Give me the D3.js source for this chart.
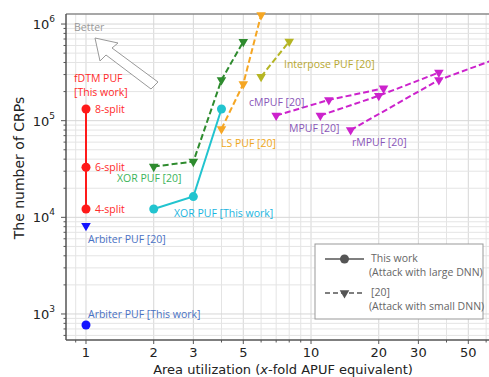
<!DOCTYPE html>
<html>
<head>
<meta charset="utf-8">
<script src="https://cdn.jsdelivr.net/npm/d3@7"></script>
<style>
  body { margin: 0; background: #fff; overflow: hidden; }
  svg { display: block; }
  .tick-lbl { font-family: "DejaVu Sans", sans-serif; font-size: 13px; fill: #222; }
  .note { font-family: "Open Sans", "Noto Sans", sans-serif; font-size: 10.5px; }
</style>
</head>
<body>
<div id="chart"></div>
<script>
// ---- data ----
const fdtmX = [1, 1, 1];
const fdtmY = [12200, 33000, 132000];
const fdtmLabels = ["4-split", "6-split", "8-split"];

const xorWorkX = [2, 3, 4];
const xorWorkY = [12200, 16400, 132000];

const xor20X = [2, 3, 4, 5];
const xor20Y = [33500, 37700, 264000, 657000];

const ls20X = [4, 5, 6];
const ls20Y = [82000, 240000, 1240000];

const interposeX = [6, 8];
const interposeY = [285000, 660000];

const cmpufX = [7, 12, 21];
const cmpufY = [113000, 164000, 216000];

const mpufX = [11, 20, 37];
const mpufY = [113000, 181000, 315000];

const rmpufX = [15, 37, 70];
const rmpufY = [80000, 264000, 455000];

const arb20X = [1];
const arb20Y = [8200];
const arbWorkX = [1];
const arbWorkY = [770];

const xTickVals = [1, 2, 3, 5, 10, 20, 30, 50];
const yTickVals = [1e3, 1e4, 1e5, 1e6];

// ---- layout ----
const width = 489, height = 377;
const pLeft = 66, pTop = 14, pBottom = 340, pRight = 495;

const svg = d3.select('#chart').append('svg')
    .attr('width', width).attr('height', height);

const x = d3.scaleLog().domain([0.815, 65.7]).range([pLeft, pRight]);
const y = d3.scaleLog().domain([538, 1.27e6]).range([pBottom, pTop]);

// minor + major grid
const xGrid = [];
for (let d = 0.1; d <= 100; d *= 10)
    for (let k = 1; k < 10; k++) { const v = +(d * k).toPrecision(6); if (v >= 0.815 && v <= 65.7) xGrid.push(v); }
const yGrid = [];
for (let d = 100; d <= 1e6; d *= 10)
    for (let k = 1; k < 10; k++) { const v = d * k; if (v >= 538 && v <= 1.27e6) yGrid.push(v); }

const grid = svg.append('g');
grid.selectAll('.gx').data(xGrid).enter().append('line')
    .attr('x1', d => x(d)).attr('x2', d => x(d)).attr('y1', pTop).attr('y2', pBottom)
    .attr('stroke', d => xTickVals.includes(d) ? '#d6d6d6' : '#e4e4e4').attr('stroke-width', 1);
grid.selectAll('.gy').data(yGrid).enter().append('line')
    .attr('x1', pLeft).attr('x2', pRight).attr('y1', d => y(d)).attr('y2', d => y(d))
    .attr('stroke', d => yTickVals.includes(d) ? '#d6d6d6' : '#e4e4e4').attr('stroke-width', 1);

// frame
svg.append('line').attr('x1', pLeft).attr('x2', pRight).attr('y1', pTop).attr('y2', pTop)
    .attr('stroke', '#8a8a8a').attr('stroke-width', 1.5);
svg.append('line').attr('x1', pLeft).attr('x2', pLeft).attr('y1', pTop).attr('y2', pBottom)
    .attr('stroke', '#555').attr('stroke-width', 1.5);
svg.append('line').attr('x1', pLeft).attr('x2', pRight).attr('y1', pBottom).attr('y2', pBottom)
    .attr('stroke', '#555').attr('stroke-width', 1.5);

// tick marks
svg.selectAll('.tx').data(xGrid).enter().append('line')
    .attr('x1', d => x(d)).attr('x2', d => x(d)).attr('y1', pBottom)
    .attr('y2', d => pBottom + (xTickVals.includes(d) ? 4 : 2.5))
    .attr('stroke', '#555').attr('stroke-width', 1);
svg.selectAll('.ty').data(yGrid).enter().append('line')
    .attr('y1', d => y(d)).attr('y2', d => y(d)).attr('x1', pLeft)
    .attr('x2', d => pLeft - (yTickVals.includes(d) ? 5 : 2.5))
    .attr('stroke', '#555').attr('stroke-width', 1);

// tick labels
svg.selectAll('.xl').data(xTickVals).enter().append('text')
    .attr('class', 'tick-lbl').attr('x', d => x(d)).attr('y', 357)
    .attr('text-anchor', 'middle').text(d => d);
const yl = svg.selectAll('.yl').data(yTickVals).enter().append('text')
    .attr('class', 'tick-lbl').attr('x', 55).attr('y', d => y(d) + 5)
    .attr('text-anchor', 'end');
yl.append('tspan').text('10');
yl.append('tspan').attr('dy', -7).attr('font-size', 9).text(d => Math.round(Math.log10(d)));

// axis titles
svg.append('text').attr('x', 283).attr('y', 374)
    .attr('text-anchor', 'middle').attr('font-family', 'DejaVu Sans, sans-serif')
    .attr('font-size', 13).attr('fill', '#222')
    .html('Area utilization (<tspan font-style="italic">x</tspan>-fold APUF equivalent)');
svg.append('text').attr('transform', 'translate(24,168) rotate(-90)')
    .attr('text-anchor', 'middle').attr('font-family', 'DejaVu Sans, sans-serif')
    .attr('font-size', 14).attr('fill', '#222').text('The number of CRPs');

// "Better" annotation
svg.append('text').attr('class', 'note').attr('x', 74).attr('y', 31)
    .attr('fill', '#999').attr('font-size', 9.5).text('Better');
svg.append('path')
    .attr('d', 'M95,38 L118,43 L112,48 L158,82 L151,89 L106,55 L100,61 Z')
    .attr('fill', '#fff').attr('stroke', '#999').attr('stroke-width', 1);

// plot marks
svg.append('clipPath').attr('id', 'clip').append('rect')
    .attr('x', pLeft).attr('y', pTop - 6).attr('width', pRight - pLeft).attr('height', pBottom - pTop + 6);
const marks = svg.append('g').attr('clip-path', 'url(#clip)');

const line = d3.line().x(d => x(d[0])).y(d => y(d[1]));
const tri = d3.symbol().type(d3.symbolTriangle).size(40);

function series(xs, ys, color, dashed, marker) {
    const pts = xs.map((v, i) => [v, ys[i]]);
    marks.append('path').datum(pts).attr('d', line)
        .attr('fill', 'none').attr('stroke', color).attr('stroke-width', 2)
        .attr('stroke-dasharray', dashed ? '6,3' : null);
    if (marker === 'circle') {
        marks.selectAll(null).data(pts).enter().append('circle')
            .attr('cx', d => x(d[0])).attr('cy', d => y(d[1])).attr('r', 4.5).attr('fill', color);
    } else {
        marks.selectAll(null).data(pts).enter().append('path')
            .attr('d', tri)
            .attr('transform', d => `translate(${x(d[0])},${y(d[1])}) rotate(180)`)
            .attr('fill', color);
    }
}

series(fdtmX, fdtmY, '#ff1a1a', false, 'circle');
series(xorWorkX, xorWorkY, '#22c4cf', false, 'circle');
series(xor20X, xor20Y, '#2e8b2e', true, 'tri');
series(ls20X, ls20Y, '#f5a623', true, 'tri');
series(interposeX, interposeY, '#b5b523', true, 'tri');
series(cmpufX, cmpufY, '#cc22cc', true, 'tri');
series(mpufX, mpufY, '#cc22cc', true, 'tri');
series(rmpufX, rmpufY, '#cc22cc', true, 'tri');
series(arb20X, arb20Y, '#1414ff', false, 'tri');
series(arbWorkX, arbWorkY, '#1414ff', false, 'circle');

// data labels
function note(tx, ty, color, text, size) {
    svg.append('text').attr('class', 'note').attr('x', tx).attr('y', ty)
        .attr('fill', color).attr('font-size', size || 10.5).text(text);
}
note(74, 82, '#ff2a2a', 'fDTM  PUF');
note(74, 96, '#ff2a2a', '[This work]');
fdtmLabels.forEach((t, i) => note(x(1) + 9, y(fdtmY[i]) + 4, '#ff2a2a', t));
note(117, 182, '#3cb35a', 'XOR PUF [20]');
note(174, 217, '#1ab5e0', 'XOR PUF [This work]');
note(221, 147, '#f0a820', 'LS PUF [20]');
note(284, 68, '#b8a830', 'Interpose PUF [20]');
note(249, 106, '#8a55b8', 'cMPUF [20]');
note(289, 132, '#8a55b8', 'MPUF [20]');
note(352, 146, '#8a55b8', 'rMPUF [20]');
note(88, 243, '#4a72c4', 'Arbiter PUF [20]');
note(88, 318, '#4a72c4', 'Arbiter PUF [This work]');

// legend
const lg = svg.append('g');
lg.append('rect').attr('x', 315).attr('y', 244).attr('width', 168).attr('height', 75)
    .attr('fill', '#fff').attr('stroke', '#999').attr('stroke-width', 1);
lg.append('line').attr('x1', 325).attr('x2', 364).attr('y1', 259).attr('y2', 259)
    .attr('stroke', '#555').attr('stroke-width', 1.5);
lg.append('circle').attr('cx', 344.5).attr('cy', 259).attr('r', 4.5).attr('fill', '#555');
lg.append('line').attr('x1', 325).attr('x2', 364).attr('y1', 293).attr('y2', 293)
    .attr('stroke', '#555').attr('stroke-width', 1.5).attr('stroke-dasharray', '5,3');
lg.append('path').attr('d', tri).attr('transform', 'translate(344.5,293) rotate(180)').attr('fill', '#555');
note(371, 262, '#666', 'This work', 10);
note(369, 276, '#666', '(Attack with large DNN)', 8);
note(371, 296, '#666', '[20]', 10);
note(369, 310, '#666', '(Attack with small DNN)', 8);
</script>
</body>
</html>
